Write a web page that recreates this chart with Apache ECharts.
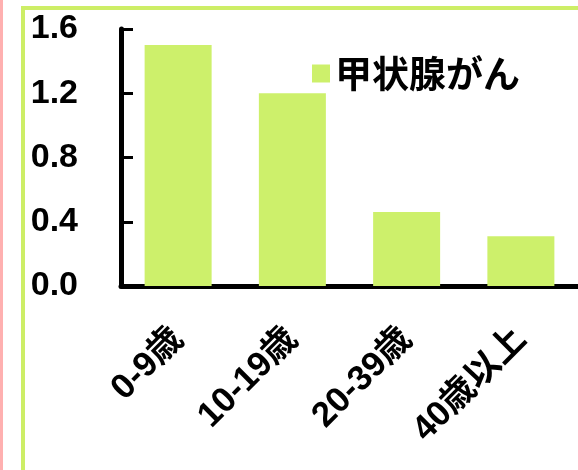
<!DOCTYPE html>
<html>
<head>
<meta charset="utf-8">
<script src="https://cdn.jsdelivr.net/npm/echarts@6/dist/echarts.min.js"></script>
<style>
html,body{margin:0;padding:0;background:#fff;}
#chart{width:578px;height:470px;}
</style>
</head>
<body>
<div id="chart"></div>
<script>
var categories = ['0-9歳', '10-19歳', '20-39歳', '40歳以上'];
var seriesName = '甲状腺がん';
var values = [1.5, 1.2, 0.46, 0.31];
var yTicks = [0, 0.4, 0.8, 1.2, 1.6];

var fontFam = '"Liberation Sans", Arial, "Noto Sans CJK JP", sans-serif';
var chart = echarts.init(document.getElementById('chart'));
chart.setOption({
  animation: false,
  backgroundColor: '#ffffff',
  graphic: [
    { type: 'rect', shape: { x: 0, y: 0, width: 3, height: 470 }, style: { fill: '#ffb0b0' }, z: 100 },
    { type: 'rect', shape: { x: 23, y: 8, width: 600, height: 500 }, style: { fill: 'none', stroke: '#cdee66', lineWidth: 4 }, z: 100 }
  ],
  legend: {
    left: 307, top: 50,
    icon: 'rect',
    itemWidth: 18, itemHeight: 18, itemGap: 10,
    textStyle: { fontSize: 37, fontWeight: 'bold', color: '#000', fontFamily: '"Noto Sans CJK JP", sans-serif', padding: [10, 0, 0, 0] },
    data: [seriesName]
  },
  grid: { left: 121, right: -3, top: 29, bottom: 184, containLabel: false },
  xAxis: {
    type: 'category',
    data: categories,
    axisLine: { lineStyle: { color: '#000', width: 5 } },
    axisTick: { inside: true, length: 12, lineStyle: { color: '#000', width: 3 } },
    axisLabel: { rotate: 45, margin: 48, fontSize: 35, fontWeight: 'bold', color: '#000', fontFamily: fontFam, interval: 0 }
  },
  yAxis: {
    type: 'value',
    min: 0, max: 1.6, interval: 0.4,
    splitLine: { show: false },
    axisLine: { show: true, lineStyle: { color: '#000', width: 5 } },
    axisTick: { show: true, inside: true, length: 12, lineStyle: { color: '#000', width: 3 } },
    axisLabel: { margin: 43, fontSize: 34, fontWeight: 'bold', color: '#000', fontFamily: fontFam,
      formatter: function (v) { return v.toFixed(1); } }
  },
  series: [{
    name: seriesName,
    type: 'bar',
    data: values,
    barWidth: 67,
    itemStyle: { color: '#cdf06b' }
  }]
});
</script>
</body>
</html>
